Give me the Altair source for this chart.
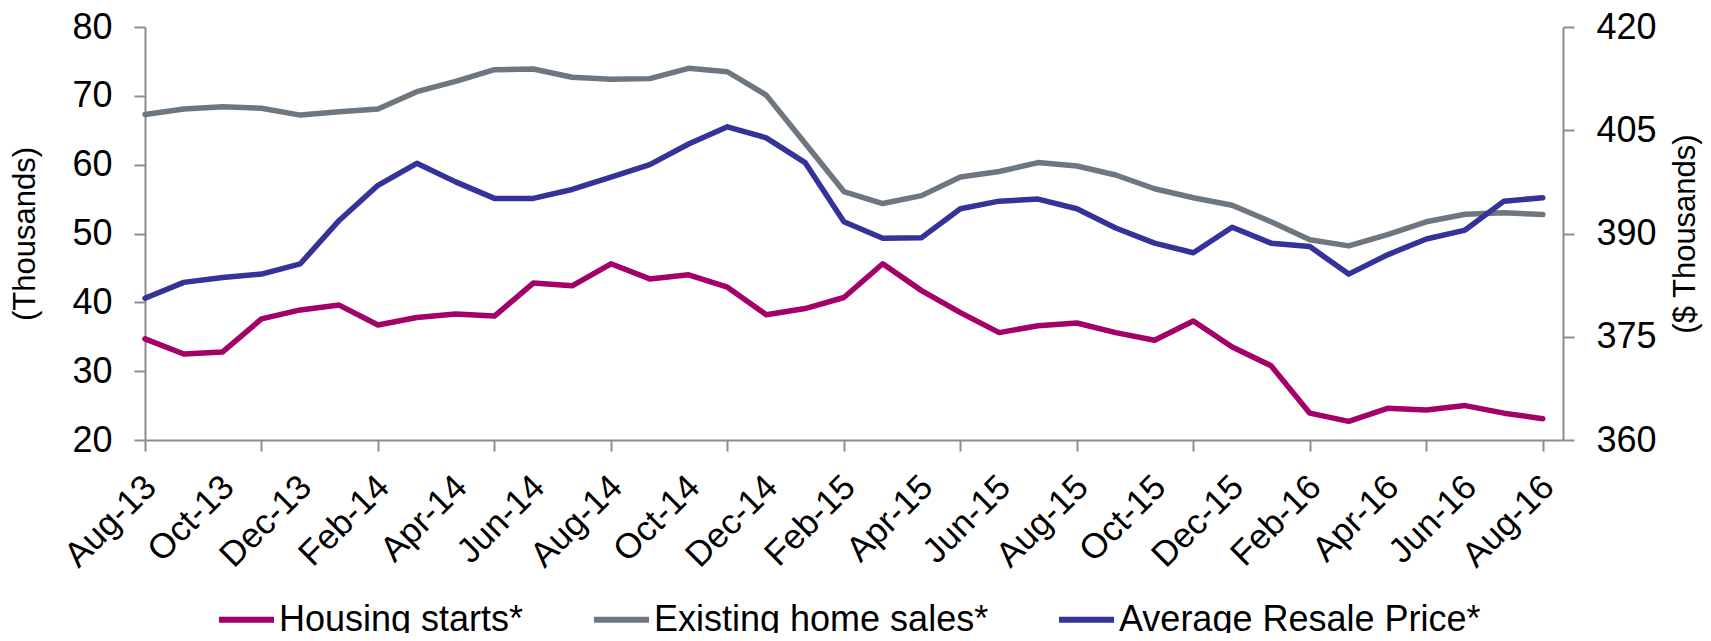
import json
import altair as alt
import pandas as pd

months = ["Aug-13", "Sep-13", "Oct-13", "Nov-13", "Dec-13",
          "Jan-14", "Feb-14", "Mar-14", "Apr-14", "May-14", "Jun-14", "Jul-14",
          "Aug-14", "Sep-14", "Oct-14", "Nov-14", "Dec-14",
          "Jan-15", "Feb-15", "Mar-15", "Apr-15", "May-15", "Jun-15", "Jul-15",
          "Aug-15", "Sep-15", "Oct-15", "Nov-15", "Dec-15",
          "Jan-16", "Feb-16", "Mar-16", "Apr-16", "May-16", "Jun-16", "Jul-16",
          "Aug-16"]

housing_starts = [34.7, 32.5, 32.8, 37.6, 38.9, 39.6, 36.7, 37.8, 38.3, 38.0,
                  42.8, 42.4, 45.6, 43.4, 44.0, 42.2, 38.2, 39.1, 40.7, 45.6,
                  41.7, 38.5, 35.6, 36.6, 37.0, 35.6, 34.5, 37.3, 33.5, 30.8,
                  23.9, 22.7, 24.6, 24.35, 25.0, 23.9, 23.1]

existing_home_sales = [67.3, 68.1, 68.4, 68.2, 67.2, 67.7, 68.1, 70.6, 72.1, 73.8,
                       73.9, 72.7, 72.4, 72.5, 74.0, 73.5, 70.1, 63.1, 56.1, 54.35,
                       55.5, 58.2, 59.0, 60.3, 59.8, 58.5, 56.5, 55.2, 54.1, 51.7,
                       49.1, 48.2, 49.85, 51.7, 52.8, 53.0, 52.75]

avg_resale_price = [380.6, 382.9, 383.6, 384.1, 385.6, 391.9, 397.0, 400.2, 397.5, 395.1,
                    395.1, 396.4, 398.2, 400.0, 403.0, 405.5, 403.9, 400.3, 391.7, 389.3,
                    389.4, 393.6, 394.7, 395.0, 393.6, 390.8, 388.6, 387.2, 390.9, 388.6,
                    388.1, 384.1, 386.9, 389.2, 390.5, 394.7, 395.2]

series_names = ["Housing starts*", "Existing home sales*", "Average Resale Price*"]
series_colors = ["#a3006a", "#6e777f", "#333399"]

left_ticks = [20, 30, 40, 50, 60, 70, 80]
right_ticks = [360, 375, 390, 405, 420]

FONT = "Liberation Sans"
AXIS_COLOR = "#8c8c8c"

rows = []
for i, m in enumerate(months):
    rows.append({"idx": i, "month": m, "series": series_names[0], "value": housing_starts[i]})
    rows.append({"idx": i, "month": m, "series": series_names[1], "value": existing_home_sales[i]})
df_left = pd.DataFrame(rows)
df_right = pd.DataFrame({"idx": list(range(len(months))), "month": months,
                         "series": series_names[2], "value": avg_resale_price})

label_expr = ("datum.value % 2 === 0 ? " + json.dumps(months).replace('"', "'")
              + "[datum.value] : ''")

x_enc = alt.X(
    "idx:Q",
    scale=alt.Scale(domain=[0, 36.52], nice=False, zero=False),
    axis=alt.Axis(
        values=list(range(len(months))),
        labelExpr=label_expr,
        labelAngle=315,
        labelAlign="right",
        labelBaseline="middle",
        labelPadding=30,
        labelOffset=5,
        labelFontSize=35,
        labelOverlap=False,
        labelFlush=False,
        tickSize=11,
        tickOpacity={"condition": {"test": "datum.value % 3 === 0", "value": 1}, "value": 0},
        title=None,
        grid=False,
    ),
)

color_scale = alt.Scale(domain=series_names, range=series_colors)

left = alt.Chart(df_left).mark_line(strokeWidth=5.5, strokeJoin="round", strokeCap="round").encode(
    x=x_enc,
    y=alt.Y(
        "value:Q",
        scale=alt.Scale(domain=[20, 80], nice=False, zero=False),
        axis=alt.Axis(
            values=left_ticks,
            title="(Thousands)",
            titleFontSize=31,
            titleFontWeight="normal",
            titleAngle=270,
            titleX=-120,
            titleY=206.5,
            titleAlign="center",
            titleBaseline="middle",
            labelFontSize=36,
            labelPadding=22,
            labelFlush=False,
            tickSize=11,
            grid=False,
        ),
    ),
    color=alt.Color(
        "series:N",
        scale=color_scale,
        legend=alt.Legend(
            title=None,
            orient="none",
            legendX=71,
            legendY=562,
            direction="horizontal",
            symbolType="stroke",
            symbolSize=3025,
            symbolStrokeWidth=6,
            labelFontSize=36,
            labelFont=FONT,
            labelColor="black",
            labelOffset=2,
            labelLimit=0,
            columnPadding=58,
            padding=0,
        ),
    ),
    detail="series:N",
)

right = alt.Chart(df_right).mark_line(strokeWidth=5.5, strokeJoin="round", strokeCap="round").encode(
    x=x_enc,
    y=alt.Y(
        "value:Q",
        scale=alt.Scale(domain=[360, 420], nice=False, zero=False),
        axis=alt.Axis(
            orient="right",
            values=right_ticks,
            title="($ Thousands)",
            titleFontSize=31,
            titleFontWeight="normal",
            titleAngle=270,
            titleX=122,
            titleY=206.5,
            titleAlign="center",
            titleBaseline="middle",
            labelFontSize=36,
            labelPadding=22,
            labelFlush=False,
            tickSize=11,
            grid=False,
        ),
    ),
    color=alt.Color("series:N", scale=color_scale, legend=None),
)

chart = alt.layer(left, right).resolve_scale(y="independent").properties(
    width=1418,
    height=413,
    autosize=alt.AutoSizeParams(type="none"),
    padding={"left": 137, "top": 19, "right": 140, "bottom": 193},
).configure(
    font=FONT,
    background="white",
).configure_view(
    stroke=None,
).configure_axis(
    domainColor=AXIS_COLOR,
    domainWidth=2,
    tickColor=AXIS_COLOR,
    tickWidth=2,
    labelColor="black",
    titleColor="black",
    labelFont=FONT,
    titleFont=FONT,
)

chart.save("out.html", embed_options={"renderer": "svg", "actions": False})
